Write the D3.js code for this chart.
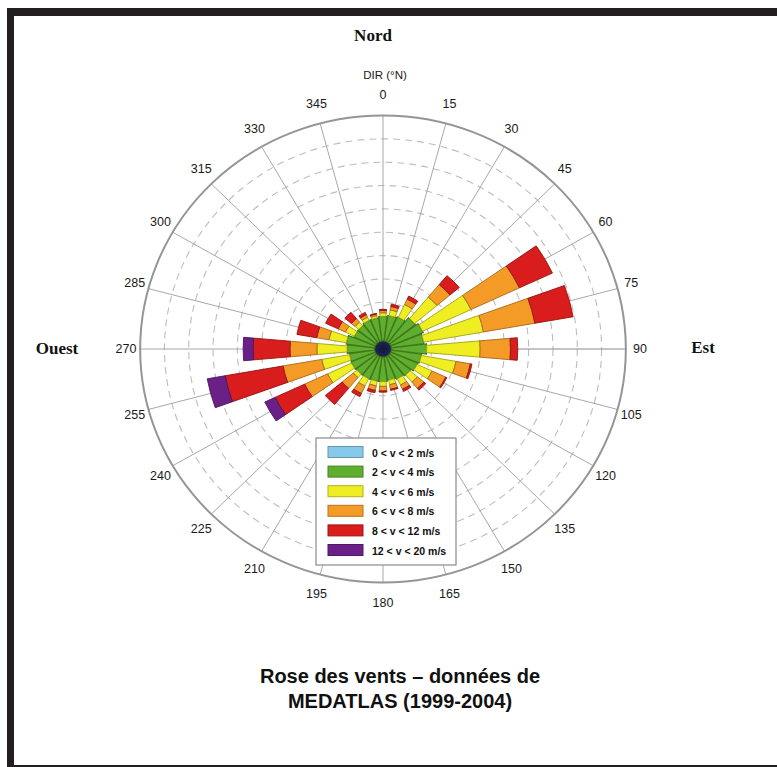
<!DOCTYPE html>
<html>
<head>
<meta charset="utf-8">
<script src="https://cdn.jsdelivr.net/npm/d3@7"></script>
<style>
  html, body { margin: 0; padding: 0; background: #fff; }
  svg { display: block; }
</style>
</head>
<body>
<svg id="chart" width="777" height="767"></svg>
<script>
// Wind directions (degrees from north, clockwise)
const directions = [0, 15, 30, 45, 60, 75, 90, 105, 120, 135, 150, 165,
                    180, 195, 210, 225, 240, 255, 270, 285, 300, 315, 330, 345];

// Speed classes and their colours
const classLabels = ["0 < v < 2 m/s", "2 < v < 4 m/s", "4 < v < 6 m/s",
                     "6 < v < 8 m/s", "8 < v < 12 m/s", "12 < v < 20 m/s"];
const classColors = ["#86c9ea", "#5fae2e", "#eeee22", "#f39b26", "#d91c1c", "#6b2088"];

// Frequency of each speed class per direction (stacked outward)
const v0_2   = [0.35, 0.35, 0.35, 0.35, 0.35, 0.35, 0.35, 0.35, 0.35, 0.35, 0.35, 0.35,
                0.35, 0.35, 0.35, 0.35, 0.35, 0.35, 0.35, 0.35, 0.35, 0.35, 0.35, 0.35];
const v2_4   = [1.05, 1.10, 1.15, 1.35, 1.45, 1.35, 1.45, 1.25, 1.20, 1.10, 1.05, 1.00,
                1.05, 1.05, 1.05, 1.05, 1.08, 1.05, 1.13, 1.18, 0.95, 0.95, 1.00, 1.00];
const v4_6   = [0.15, 0.25, 0.60, 1.20, 2.20, 2.50, 2.20, 1.45, 0.68, 0.40, 0.30, 0.20,
                0.20, 0.20, 0.35, 0.20, 1.09, 1.16, 1.24, 0.73, 0.41, 0.20, 0.15, 0.10];
const v6_8   = [0.10, 0.15, 0.25, 0.70, 2.20, 2.15, 1.25, 0.60, 0.62, 0.35, 0.20, 0.20,
                0.20, 0.20, 0.35, 0.60, 1.04, 1.62, 1.11, 0.51, 0.33, 0.20, 0.12, 0.07];
const v8_12  = [0.05, 0.10, 0.15, 0.50, 1.50, 1.60, 0.30, 0.07, 0.05, 0.10, 0.10, 0.05,
                0.05, 0.10, 0.15, 0.90, 1.34, 2.42, 1.52, 0.83, 0.57, 0.35, 0.11, 0.03];
const v12_20 = [0, 0, 0, 0, 0, 0, 0, 0, 0, 0, 0, 0,
                0, 0, 0, 0, 0.47, 0.75, 0.41, 0, 0, 0, 0, 0];

const series = [v0_2, v2_4, v4_6, v6_8, v8_12, v12_20];

// Radial grid: one dashed ring per unit, outer ring solid
const ringValues = [1, 2, 3, 4, 5, 6, 7, 8, 9];
const rMax = 10;

const svg = d3.select("#chart");
const cx = 383, cy = 349;
const R = 233.5;          // vertical radius of the dial
const stretchX = 1.04;    // the dial is slightly wider than tall

const r = d3.scaleLinear().domain([0, rMax]).range([0, R]);
const toRad = d => d * Math.PI / 180;

// Frame
svg.append("line").attr("x1", 7).attr("x2", 777).attr("y1", 12).attr("y2", 12)
  .attr("stroke", "#231f20").attr("stroke-width", 8);
svg.append("line").attr("x1", 10.5).attr("x2", 10.5).attr("y1", 8).attr("y2", 767)
  .attr("stroke", "#231f20").attr("stroke-width", 7);
svg.append("line").attr("x1", 7).attr("x2", 777).attr("y1", 766.5).attr("y2", 766.5)
  .attr("stroke", "#231f20").attr("stroke-width", 3);

const dial = svg.append("g")
  .attr("transform", `translate(${cx},${cy}) scale(${stretchX},1)`);

// Dashed rings
dial.selectAll("circle.ring").data(ringValues).join("circle")
  .attr("class", "ring")
  .attr("r", d => r(d))
  .attr("fill", "none")
  .attr("stroke", "#bdbdbd")
  .attr("stroke-width", 1.1)
  .attr("stroke-dasharray", "7,5")
  .attr("vector-effect", "non-scaling-stroke");

// Spokes every 15 degrees
dial.selectAll("line.spoke").data(directions).join("line")
  .attr("class", "spoke")
  .attr("x1", 0).attr("y1", 0)
  .attr("x2", d => r(rMax) * Math.sin(toRad(d)))
  .attr("y2", d => -r(rMax) * Math.cos(toRad(d)))
  .attr("stroke", d => d === 90 ? "#8a8a8a" : "#a8a8a8")
  .attr("stroke-width", 1)
  .attr("vector-effect", "non-scaling-stroke");

// Outer circle
dial.append("circle").attr("r", r(rMax))
  .attr("fill", "none").attr("stroke", "#959595").attr("stroke-width", 2)
  .attr("vector-effect", "non-scaling-stroke");

// Stacked wedges
const stacked = directions.map((dir, i) => {
  let acc = 0;
  return series.map((s, k) => {
    const start = acc;
    acc += s[i];
    return { dir, k, start, end: acc };
  });
}).flat().filter(d => d.end > d.start);

const halfWidth = [7, 7, 5, 5, 5, 5];   // angular half-width per class (degrees)
const arc = d3.arc()
  .innerRadius(d => r(d.start))
  .outerRadius(d => r(d.end))
  .startAngle(d => toRad(d.dir - halfWidth[d.k]))
  .endAngle(d => toRad(d.dir + halfWidth[d.k]));

dial.selectAll("path.wedge").data(stacked).join("path")
  .attr("class", "wedge")
  .attr("d", arc)
  .attr("fill", d => d.k === 0 ? "#1c2a5e" : classColors[d.k])
  .attr("stroke", d => d.k === 0 ? "#141c40" : d3.color(classColors[d.k]).darker(1.1))
  .attr("stroke-width", d => d.k === 1 ? 1.2 : 0.9)
  .attr("vector-effect", "non-scaling-stroke");

// Direction labels
const labelRx = 257, labelRy = 254;
svg.selectAll("text.dir").data(directions).join("text")
  .attr("class", "dir")
  .attr("x", d => cx + labelRx * Math.sin(toRad(d)))
  .attr("y", d => cy - labelRy * Math.cos(toRad(d)))
  .attr("text-anchor", "middle")
  .attr("dominant-baseline", "central")
  .attr("font-family", "'Liberation Sans', Arial, sans-serif")
  .attr("font-size", 12.5)
  .attr("fill", "#1a1a1a")
  .text(d => d);

svg.append("text")
  .attr("x", 385).attr("y", 75)
  .attr("text-anchor", "middle").attr("dominant-baseline", "central")
  .attr("font-family", "'Liberation Sans', Arial, sans-serif")
  .attr("font-size", 11.5).attr("fill", "#1a1a1a")
  .text("DIR (°N)");

// Cardinal names
const cardinals = [
  { text: "Nord", x: 373, y: 35 },
  { text: "Ouest", x: 57, y: 348 },
  { text: "Est", x: 703, y: 347 }
];
svg.selectAll("text.card").data(cardinals).join("text")
  .attr("class", "card")
  .attr("x", d => d.x).attr("y", d => d.y)
  .attr("text-anchor", "middle").attr("dominant-baseline", "central")
  .attr("font-family", "'Liberation Serif', 'Times New Roman', serif")
  .attr("font-weight", "bold").attr("font-size", 17)
  .attr("fill", "#111")
  .text(d => d.text);

// Legend
const legend = svg.append("g").attr("transform", "translate(316,438)");
legend.append("rect").attr("width", 140).attr("height", 127)
  .attr("fill", "#fff").attr("stroke", "#8a8a8a").attr("stroke-width", 1.2);
const rows = legend.selectAll("g.row").data(classLabels).join("g")
  .attr("class", "row")
  .attr("transform", (d, i) => `translate(0,${14 + i * 19.6})`);
rows.append("rect")
  .attr("x", 12).attr("y", -5.5).attr("width", 35).attr("height", 11)
  .attr("fill", (d, i) => classColors[i])
  .attr("stroke", (d, i) => d3.color(classColors[i]).darker(0.8))
  .attr("stroke-width", 1);
rows.append("text")
  .attr("x", 56).attr("y", 0.5)
  .attr("dominant-baseline", "central")
  .attr("font-family", "'Liberation Sans', Arial, sans-serif")
  .attr("font-weight", "bold").attr("font-size", 10.5)
  .attr("fill", "#111")
  .text(d => d);

// Caption
const caption = ["Rose des vents – données de", "MEDATLAS (1999-2004)"];
svg.selectAll("text.cap").data(caption).join("text")
  .attr("class", "cap")
  .attr("x", 400).attr("y", (d, i) => 683 + i * 25)
  .attr("text-anchor", "middle")
  .attr("font-family", "'Liberation Sans', Arial, sans-serif")
  .attr("font-weight", "bold").attr("font-size", 20)
  .attr("fill", "#111")
  .text(d => d);
</script>
</body>
</html>
